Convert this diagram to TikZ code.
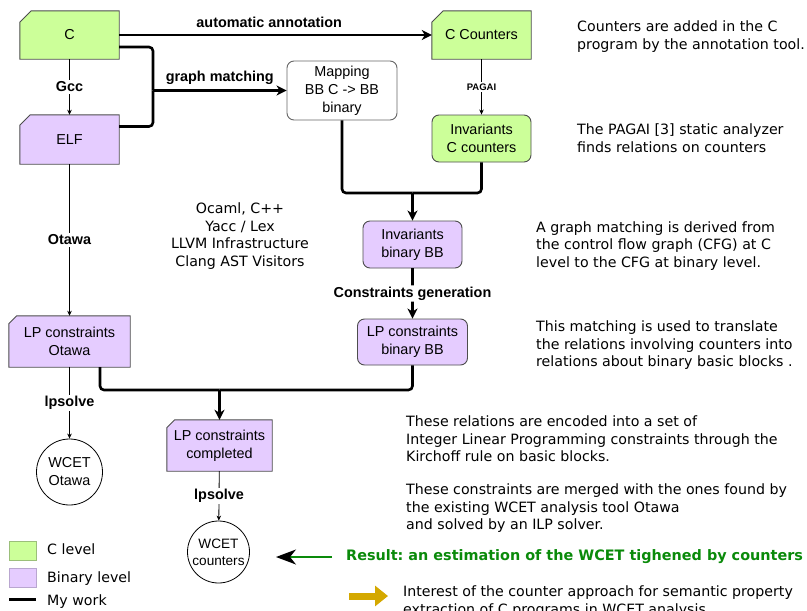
\documentclass[tikz,border=0pt]{standalone}
\usepackage{fontspec}
\setmainfont{Liberation Sans}
\newfontfamily\dejavu{DejaVu Sans}
\usetikzlibrary{arrows.meta,backgrounds}
\frenchspacing

\definecolor{clevel}{HTML}{CCFF99}
\definecolor{binlevel}{HTML}{E5CCFF}
\definecolor{edgegray}{HTML}{4D4D4D}
\definecolor{mapgray}{HTML}{666666}
\definecolor{resgreen}{HTML}{0A8A0A}
\definecolor{goldarrow}{HTML}{D4A800}
\definecolor{legendgreen}{HTML}{9BBF7A}
\definecolor{legendpurple}{HTML}{B9A6D0}

\begin{document}
\begin{tikzpicture}[x=1pt,y=-1pt,
  boxfont/.style={font=\fontsize{14.4}{18}\selectfont},
  filebox/.style={boxfont, align=center, inner sep=0pt},
  roundbox/.style={boxfont, align=center, draw=edgegray, line width=0.9pt,
    rounded corners=7pt, inner sep=0pt},
  wcet/.style={circle, draw=black, line width=0.8pt, align=center, inner sep=0pt},
  lbl/.style={font=\bfseries\fontsize{14.4}{16}\selectfont, inner sep=1.5pt},
  onlbl/.style={lbl, fill=white},
  desc/.style={font=\dejavu\fontsize{14.2}{17.5}\selectfont, align=left,
    anchor=west, inner sep=0pt},
  work/.style={line width=2.6pt, rounded corners=4pt},
  worktip/.style={-{Stealth[length=10pt,width=10pt,inset=3pt]}},
  tool/.style={line width=0.8pt, -{Stealth[length=5pt,width=4.5pt,inset=1.5pt]}},
]
\useasboundingbox (0,0) rectangle (807,611);

% ---------- boxes ----------
\node[filebox, minimum width=99pt, minimum height=48pt] (C) at (69.5,35) {C};
\node[filebox, minimum width=99pt, minimum height=49pt] (ELF) at (69.5,139.5) {ELF};
\node[filebox, minimum width=99pt, minimum height=48pt] (CC) at (481.5,35) {C Counters};
\node[roundbox, fill=white, draw=mapgray, minimum width=110pt, minimum height=59pt]
  (Map) at (342,90.5) {Mapping\\BB C -> BB\\binary};
\node[roundbox, fill=clevel, minimum width=99pt, minimum height=47pt]
  (InvC) at (481.5,138.5) {Invariants\\C counters};
\node[roundbox, fill=binlevel, minimum width=99pt, minimum height=47pt]
  (InvB) at (412.5,244.5) {Invariants\\binary BB};
\node[roundbox, fill=binlevel, minimum width=110pt, minimum height=46pt]
  (LPB) at (412.5,342) {LP constraints\\binary BB};
\node[filebox, minimum width=121pt, minimum height=51pt]
  (LPO) at (69.5,341.5) {LP constraints\\Otawa};
\node[filebox, minimum width=105pt, minimum height=51pt]
  (LPC) at (219.5,445.5) {LP constraints\\completed};
\node[wcet, boxfont, minimum size=66pt] (WO) at (69.5,472) {WCET\\Otawa};
\node[wcet, font=\fontsize{13.6}{17}\selectfont, minimum size=62pt]
  (WCo) at (218.5,552) {WCET\\counters};

% file-like boxes with a cut corner, drawn behind their text
\begin{pgfonlayer}{background}
\fill[white] (0,0) rectangle (807,611);
\foreach \n/\c/\s in {C/clevel/11.5,ELF/binlevel/10.5,CC/clevel/11.5,LPO/binlevel/8,LPC/binlevel/8}
  \filldraw[fill=\c, draw=edgegray, line width=0.9pt]
    (\n.south west) -- ([yshift=-\s pt]\n.north west) -- ([xshift=\s pt]\n.north west)
    -- (\n.north east) -- (\n.south east) -- cycle;
\end{pgfonlayer}

% ---------- connectors ----------
\draw[work, worktip] (C.east) -- (CC.west)
  node[lbl, pos=0.48, above=5pt] {automatic annotation};

\coordinate (jMap) at (153,90.5);
\draw[work] ([yshift=-12pt]C.east) -| (jMap);
\draw[work] ([yshift=13pt]ELF.east) -| (jMap);
\draw[work, worktip] (jMap) -- (Map.west)
  node[lbl, midway, above=3pt] {graph matching};

\draw[tool] (C) -- (ELF) node[onlbl, midway] {Gcc};
\draw[tool] (CC) -- (InvC)
  node[onlbl, midway, font=\bfseries\fontsize{9.5}{11}\selectfont] {PAGAI};

\coordinate (jInv) at (412.5,193);
\draw[work] (Map.south) |- (jInv);
\draw[work] (InvC.south) |- (jInv);
\draw[work, worktip] (jInv) -- (InvB.north);

\draw[work, worktip] (InvB) -- (LPB) node[onlbl, midway] {Constraints generation};

\coordinate (jLP) at (219.5,390);
\draw[work] ([xshift=30.5pt]LPO.south) |- (jLP);
\draw[work] (LPB.south) |- (jLP);
\draw[work, worktip] (jLP) -- (LPC.north);

\draw[tool] (ELF) -- (LPO) node[onlbl, midway] {Otawa};
\draw[tool] (LPO) -- (WO) node[onlbl, midway] {lpsolve};
\draw[tool] (LPC) -- (WCo) node[onlbl, midway] {lpsolve};

% ---------- explanations ----------
\node[desc] (d1) at (577,36.5) {Counters are added in the C\\program by the annotation tool.};
\node[desc] (d2) at (577,138) {The PAGAI [3] static analyzer\\finds relations on counters};
\node[desc] (d3) at (536,246) {A graph matching is derived from\\the control flow graph (CFG) at C\\level to the CFG at binary level.};
\node[desc] (d4) at (536,345.5) {This matching is used to translate\\the relations involving counters into\\relations about binary basic blocks .};
\node[desc] (d5) at (406,439) {These relations are encoded into a set of\\Integer Linear Programming constraints through the\\Kirchoff rule on basic blocks.};
\node[desc] (d6) at (406,508.5) {These constraints are merged with the ones found by\\the existing WCET analysis tool Otawa\\and solved by an ILP solver.};
\node[desc, align=center, anchor=center] (tools) at (240,236)
  {Ocaml, C++\\Yacc / Lex\\LLVM Infrastructure\\Clang AST Visitors};

% result
\node[anchor=west, inner sep=0pt, text=resgreen,
  font=\dejavu\bfseries\fontsize{14.4}{17}\selectfont] (res) at (346,557)
  {Result: an estimation of the WCET tighened by counters};
\coordinate (resTip) at (276,557);
\draw[resgreen, line width=1.5pt,
  -{Stealth[length=20pt,width=15pt,inset=6pt,color=black]}]
  ([xshift=-14pt]res.west) -- (resTip);

% perspective
\node[desc, anchor=north west] (intr) at (403,586)
  {Interest of the counter approach for semantic property\\extraction of C programs in WCET analysis};
\coordinate (gA) at (349,596);
\coordinate (gB) at (388,596);
\draw[goldarrow, line width=7pt, -{Triangle[length=13pt,width=20pt]}] (gA) -- (gB);

% ---------- legend ----------
\node[draw=legendgreen, fill=clevel, minimum width=27pt, minimum height=19pt,
  inner sep=0pt] (legC) at (22.5,550.5) {};
\node[draw=legendpurple, fill=binlevel, minimum width=27pt, minimum height=19pt,
  inner sep=0pt] (legB) at (22.5,577.5) {};
\node[desc] (legCt) at (47,549.6) {C level};
\node[desc] (legBt) at (47,579) {Binary level};
\node[desc] (legWt) at (47,602) {My work};
\coordinate (wA) at (9,599);
\coordinate (wB) at (36,599);
\draw[line width=3pt] (wA) -- (wB);
\end{tikzpicture}
\end{document}
